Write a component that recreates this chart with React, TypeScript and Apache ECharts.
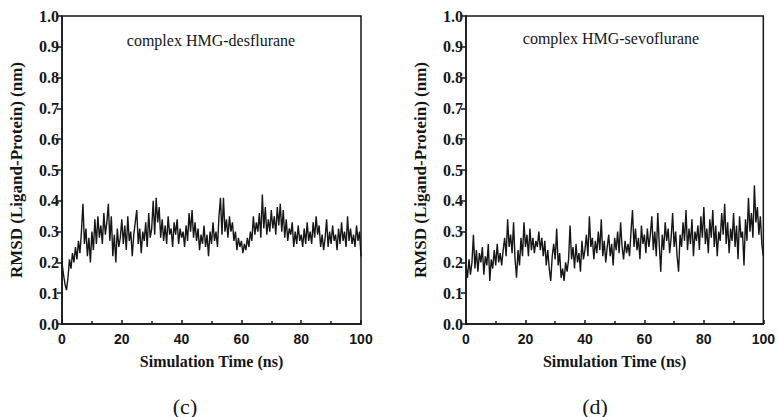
import React, { useEffect, useRef } from "react";
import * as echarts from "echarts";

// RMSD (nm) sampled every 0.5 ns over 0–100 ns
const desfluraneRmsd: number[] = [
  0.20, 0.16, 0.13, 0.11, 0.15,
  0.21, 0.18, 0.23, 0.20, 0.25, 0.21,
  0.27, 0.23, 0.30, 0.39, 0.26,
  0.31, 0.22, 0.28, 0.20, 0.30,
  0.24, 0.34, 0.26, 0.35,
  0.28, 0.32, 0.26, 0.36, 0.29, 0.33,
  0.39, 0.27, 0.35, 0.22,
  0.29, 0.20, 0.31, 0.25, 0.28, 0.34,
  0.26, 0.32, 0.24, 0.35, 0.27,
  0.30, 0.22, 0.29, 0.33, 0.37,
  0.26, 0.31, 0.23, 0.30, 0.27,
  0.33, 0.25, 0.36, 0.28, 0.31,
  0.40, 0.29, 0.41, 0.33, 0.38,
  0.28, 0.34, 0.27, 0.32, 0.26,
  0.35, 0.29, 0.31, 0.25, 0.33,
  0.29, 0.34, 0.26, 0.31, 0.28,
  0.30, 0.25, 0.32, 0.27, 0.36,
  0.30, 0.37, 0.28, 0.33, 0.27,
  0.31, 0.24, 0.29, 0.26, 0.32,
  0.25, 0.29, 0.22, 0.30, 0.26,
  0.33, 0.27, 0.30, 0.25, 0.35,
  0.41, 0.29, 0.41, 0.30, 0.34,
  0.28, 0.35, 0.30, 0.33, 0.27,
  0.30, 0.24, 0.28, 0.25, 0.27,
  0.23, 0.26, 0.24, 0.28, 0.25,
  0.30, 0.27, 0.35, 0.29, 0.33,
  0.30, 0.36, 0.28, 0.42, 0.31,
  0.38, 0.29, 0.34, 0.30, 0.37,
  0.31, 0.35, 0.29, 0.38, 0.32,
  0.39, 0.30, 0.37, 0.28, 0.34,
  0.27, 0.31, 0.29, 0.33, 0.25,
  0.30, 0.26, 0.32, 0.27, 0.29,
  0.25, 0.31, 0.26, 0.33, 0.27,
  0.30, 0.26, 0.33, 0.28, 0.35,
  0.29, 0.32, 0.25, 0.29, 0.24,
  0.28, 0.34, 0.25, 0.30, 0.26,
  0.32, 0.27, 0.29, 0.24, 0.31,
  0.26, 0.33, 0.27, 0.30, 0.25,
  0.35, 0.27, 0.31, 0.26, 0.29,
  0.25, 0.32, 0.27, 0.30, 0.22,
];

const sevofluraneRmsd: number[] = [
  0.19, 0.15, 0.21, 0.16, 0.20,
  0.29, 0.18, 0.24, 0.17, 0.23, 0.20,
  0.25, 0.16, 0.22, 0.19, 0.26,
  0.14, 0.21, 0.18, 0.24, 0.19,
  0.26, 0.20, 0.23, 0.19,
  0.24, 0.28, 0.22, 0.34, 0.25, 0.29,
  0.23, 0.33, 0.21, 0.15,
  0.24, 0.19, 0.28, 0.22, 0.33, 0.25,
  0.29, 0.22, 0.31, 0.24, 0.28,
  0.23, 0.27, 0.25, 0.30, 0.24,
  0.28, 0.22, 0.27, 0.19, 0.24,
  0.18, 0.14, 0.22, 0.26, 0.21,
  0.31, 0.19, 0.23, 0.15, 0.18,
  0.14, 0.20, 0.17, 0.21, 0.32,
  0.21, 0.25, 0.18, 0.26, 0.20,
  0.23, 0.17, 0.27, 0.21, 0.24,
  0.29, 0.22, 0.35, 0.25, 0.28,
  0.21, 0.27, 0.23, 0.30, 0.24,
  0.34, 0.22, 0.27, 0.20, 0.25,
  0.29, 0.22, 0.26, 0.19, 0.28,
  0.24, 0.30, 0.23, 0.33, 0.25,
  0.21, 0.27, 0.23, 0.26, 0.22,
  0.30, 0.37, 0.25, 0.31, 0.24,
  0.28, 0.21, 0.32, 0.26, 0.29,
  0.23, 0.31, 0.25, 0.29, 0.35,
  0.24, 0.30, 0.22, 0.36, 0.26,
  0.17, 0.29, 0.24, 0.33, 0.27,
  0.31, 0.23, 0.28, 0.36, 0.25,
  0.30, 0.22, 0.17, 0.29, 0.25,
  0.33, 0.27, 0.37, 0.24, 0.31,
  0.26, 0.34, 0.22, 0.30, 0.27,
  0.32, 0.24, 0.35, 0.28, 0.38,
  0.26, 0.31, 0.23, 0.34, 0.28,
  0.37, 0.25, 0.32, 0.22, 0.30,
  0.27, 0.36, 0.29, 0.39, 0.26,
  0.33, 0.23, 0.31, 0.27, 0.36,
  0.25, 0.32, 0.21, 0.35, 0.28,
  0.30, 0.19, 0.34, 0.27, 0.41,
  0.30, 0.36, 0.28, 0.45, 0.33,
  0.38, 0.29, 0.35, 0.26, 0.22,
];

const panelTitles = ["complex HMG-desflurane", "complex HMG-sevoflurane"];
const panelLetters = ["(c)", "(d)"];
const yAxisTitle = "RMSD (Ligand-Protein) (nm)";
const xAxisTitle = "Simulation Time (ns)";
const TIME_END = 100;

const INK = "#161616";
const SERIF = "Liberation Serif";
const SANS = "Liberation Sans";

function toPairs(values: number[]): [number, number][] {
  const step = TIME_END / (values.length - 1);
  return values.map((v, i) => [i * step, v]);
}

function makeXAxis(gridIndex: number) {
  return {
    type: "value" as const,
    gridIndex,
    min: 0,
    max: 100,
    interval: 20,
    name: xAxisTitle,
    nameLocation: "middle" as const,
    nameGap: 29,
    nameTextStyle: { fontFamily: SERIF, fontWeight: "bold", fontSize: 16, color: INK },
    axisLine: { show: true, onZero: false, lineStyle: { color: INK, width: 1.5 } },
    axisTick: { show: true, inside: true, length: 4, lineStyle: { color: INK, width: 1.5 } },
    minorTick: { show: true, splitNumber: 2, length: 3, lineStyle: { color: INK, width: 1.5 } },
    axisLabel: { fontFamily: SANS, fontWeight: "bold", fontSize: 14, color: INK, margin: 8 },
    splitLine: { show: false },
  };
}

function makeYAxis(gridIndex: number) {
  return {
    type: "value" as const,
    gridIndex,
    min: 0,
    max: 1,
    interval: 0.1,
    name: yAxisTitle,
    nameLocation: "middle" as const,
    nameGap: 37,
    nameTextStyle: { fontFamily: SERIF, fontWeight: "bold", fontSize: 17, color: INK },
    axisLine: { show: true, onZero: false, lineStyle: { color: INK, width: 1.5 } },
    axisTick: { show: true, inside: false, length: 5, lineStyle: { color: INK, width: 1.5 } },
    axisLabel: {
      fontFamily: SERIF,
      fontWeight: "bold",
      fontSize: 16,
      color: INK,
      margin: 3,
      formatter: (v: number) => v.toFixed(1),
    },
    splitLine: { show: false },
  };
}

export default function App() {
  const ref = useRef<HTMLDivElement>(null);

  useEffect(() => {
    if (!ref.current) return;
    const chart = echarts.init(ref.current, null, { renderer: "svg" });
    const gridBase = { show: true, borderColor: INK, borderWidth: 1.5, backgroundColor: "transparent", top: 16, bottom: 93 };
    chart.setOption({
      animation: false,
      backgroundColor: "#ffffff",
      grid: [
        { ...gridBase, left: 62, right: 417 },
        { ...gridBase, left: 466, right: 14 },
      ],
      xAxis: [makeXAxis(0), makeXAxis(1)],
      yAxis: [makeYAxis(0), makeYAxis(1)],
      series: [desfluraneRmsd, sevofluraneRmsd].map((vals, i) => ({
        type: "line",
        xAxisIndex: i,
        yAxisIndex: i,
        data: toPairs(vals),
        showSymbol: false,
        symbol: "none",
        lineStyle: { color: INK, width: 1.4 },
        silent: true,
      })),
      graphic: [
        {
          type: "text",
          x: 211,
          y: 40,
          style: { text: panelTitles[0], fontFamily: SERIF, fontSize: 16, fill: INK, align: "center", verticalAlign: "middle" },
        },
        {
          type: "text",
          x: 611,
          y: 38,
          style: { text: panelTitles[1], fontFamily: SERIF, fontSize: 16, fill: INK, align: "center", verticalAlign: "middle" },
        },
        {
          type: "text",
          x: 185,
          y: 406,
          style: { text: panelLetters[0], fontFamily: SERIF, fontSize: 22, fill: INK, align: "center", verticalAlign: "middle" },
        },
        {
          type: "text",
          x: 595,
          y: 406,
          style: { text: panelLetters[1], fontFamily: SERIF, fontSize: 22, fill: INK, align: "center", verticalAlign: "middle" },
        },
      ],
    });
    return () => chart.dispose();
  }, []);

  return <div ref={ref} style={{ width: 778, height: 417, position: "absolute", left: 0, top: 0 }} />;
}
